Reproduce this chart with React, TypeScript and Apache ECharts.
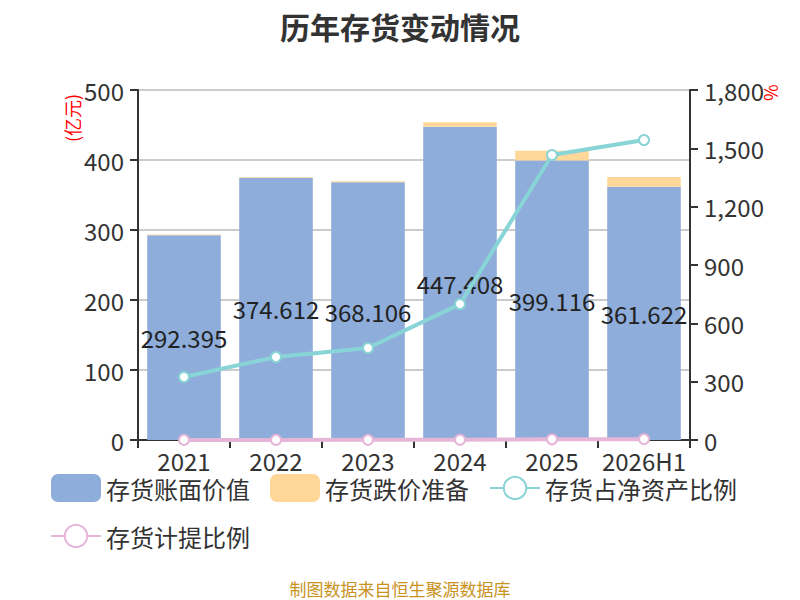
import React, { useEffect, useRef } from "react";
import * as echarts from "echarts";

const categories = ["2021", "2022", "2023", "2024", "2025", "2026H1"];
const bookValue = [292.395, 374.612, 368.106, 447.408, 399.116, 361.622];
const impairment = [1.0, 1.2, 1.5, 6.5, 14.0, 14.0];
const netAssetRatio = [324, 427, 473, 699, 1466, 1543];
const provisionRatio = [0.5, 0.6, 0.7, 1.2, 3.5, 4.5];
const leftTicks = { min: 0, max: 500, interval: 100 };
const rightTicks = { min: 0, max: 1800, interval: 300 };

const FONT = "'Noto Sans CJK SC', 'Noto Sans', sans-serif";

export default function App() {
  const ref = useRef<HTMLDivElement>(null);
  useEffect(() => {
    if (!ref.current) return;
    const chart = echarts.init(ref.current, undefined, { renderer: "svg" });
    const axisCommon = {
      axisLine: { show: true, lineStyle: { color: "#333", width: 2 } },
      axisTick: { show: true, length: 8, lineStyle: { color: "#333", width: 2 } },
      axisLabel: { fontSize: 24, color: "#333", margin: 14, fontFamily: FONT },
    };
    chart.setOption({
      animation: false,
      textStyle: { fontFamily: FONT },
      title: {
        text: "历年存货变动情况",
        left: "center",
        top: 3,
        textStyle: { fontSize: 30, lineHeight: 36, fontWeight: "bold", color: "#333", fontFamily: FONT },
      },
      graphic: [
        {
          type: "text",
          x: 63,
          y: 142,
          rotation: Math.PI / 2,
          style: { text: "(亿元)", fill: "#ff0000", fontSize: 18, fontFamily: FONT },
        },
        {
          type: "text",
          x: 761,
          y: 101,
          rotation: Math.PI / 2,
          style: { text: "%", fill: "#ff0000", fontSize: 18, fontFamily: FONT },
        },
        {
          type: "text",
          left: "center",
          top: 580,
          style: { text: "制图数据来自恒生聚源数据库", fill: "#C8921E", fontSize: 17, fontFamily: FONT },
        },
      ],
      legend: {
        left: 50,
        top: 474,
        width: 740,
        padding: 0,
        itemWidth: 50,
        itemHeight: 28,
        itemGap: 20,
        itemTextGap: 8,
        textStyle: { fontSize: 24, lineHeight: 22, color: "#333", fontFamily: FONT },
        data: [
          { name: "存货账面价值", icon: "roundRect" },
          { name: "存货跌价准备", icon: "roundRect" },
          { name: "存货占净资产比例" },
          { name: "存货计提比例" },
        ],
      },
      grid: { left: 138, right: 110, top: 90, bottom: 160 },
      xAxis: {
        type: "category",
        data: categories,
        axisLine: { lineStyle: { color: "#333", width: 2 } },
        axisTick: { show: true, length: 8, lineStyle: { color: "#333", width: 2 } },
        axisLabel: { fontSize: 24, color: "#333", margin: 11, lineHeight: 18, interval: 0, fontFamily: FONT },
      },
      yAxis: [
        {
          type: "value",
          ...leftTicks,
          ...axisCommon,
          splitLine: { lineStyle: { color: "#ccc", width: 2 } },
        },
        {
          type: "value",
          ...rightTicks,
          ...axisCommon,
          splitLine: { show: false },
        },
      ],
      series: [
        {
          name: "存货账面价值",
          type: "bar",
          stack: "inv",
          barWidth: "80%",
          data: bookValue,
          itemStyle: { color: "#8EADDA" },
          label: {
            show: true,
            position: "inside",
            fontSize: 24,
            color: "#222",
            fontFamily: FONT,
          },
        },
        {
          name: "存货跌价准备",
          type: "bar",
          stack: "inv",
          data: impairment,
          itemStyle: { color: "#FFD899" },
        },
        {
          name: "存货占净资产比例",
          type: "line",
          yAxisIndex: 1,
          data: netAssetRatio,
          symbol: "emptyCircle",
          symbolSize: 10,
          lineStyle: { color: "#88D4D6", width: 4 },
          itemStyle: { color: "#88D4D6", borderWidth: 2 },
        },
        {
          name: "存货计提比例",
          type: "line",
          yAxisIndex: 1,
          data: provisionRatio,
          symbol: "emptyCircle",
          symbolSize: 10,
          lineStyle: { color: "#E6B6D8", width: 4 },
          itemStyle: { color: "#E6B6D8", borderWidth: 2 },
        },
      ],
    });
    return () => chart.dispose();
  }, []);
  return (
    <div
      ref={ref}
      style={{ position: "absolute", left: 0, top: 0, width: 800, height: 600 }}
    />
  );
}
